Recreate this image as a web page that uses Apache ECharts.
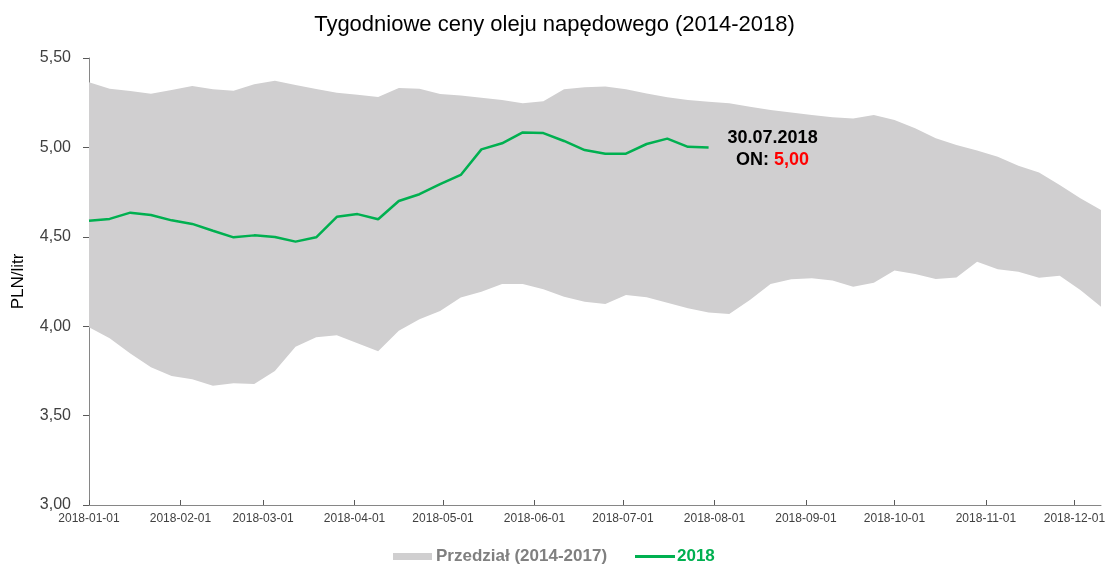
<!DOCTYPE html>
<html>
<head>
<meta charset="utf-8">
<script src="https://cdn.jsdelivr.net/npm/echarts@6/dist/echarts.min.js"></script>
<style>
  html, body { margin: 0; padding: 0; background: #fff; }
  #chart { width: 1109px; height: 565px; }
</style>
</head>
<body>
<div id="chart"></div>
<script>
// weekly dates (Monday) used for the 2014-2017 band
const weeks = [
  "2018-01-01", "2018-01-08", "2018-01-15", "2018-01-22", "2018-01-29",
  "2018-02-05", "2018-02-12", "2018-02-19", "2018-02-26",
  "2018-03-05", "2018-03-12", "2018-03-19", "2018-03-26",
  "2018-04-02", "2018-04-09", "2018-04-16", "2018-04-23", "2018-04-30",
  "2018-05-07", "2018-05-14", "2018-05-21", "2018-05-28",
  "2018-06-04", "2018-06-11", "2018-06-18", "2018-06-25",
  "2018-07-02", "2018-07-09", "2018-07-16", "2018-07-23", "2018-07-30",
  "2018-08-06", "2018-08-13", "2018-08-20", "2018-08-27",
  "2018-09-03", "2018-09-10", "2018-09-17", "2018-09-24",
  "2018-10-01", "2018-10-08", "2018-10-15", "2018-10-22", "2018-10-29",
  "2018-11-05", "2018-11-12", "2018-11-19", "2018-11-26",
  "2018-12-03", "2018-12-10"
];

// band (min / max of 2014-2017)
const bandLow = [
  3.994, 3.932, 3.848, 3.770, 3.721, 3.703, 3.667, 3.681, 3.677, 3.749,
  3.885, 3.938, 3.949, 3.904, 3.860, 3.975, 4.039, 4.085, 4.160, 4.193,
  4.236, 4.236, 4.206, 4.165, 4.137, 4.124, 4.174, 4.162, 4.131, 4.100,
  4.076, 4.068, 4.147, 4.236, 4.262, 4.268, 4.255, 4.221, 4.243, 4.311,
  4.292, 4.264, 4.273, 4.361, 4.318, 4.305, 4.271, 4.282, 4.202, 4.109
];
const bandHigh = [
  5.364, 5.328, 5.315, 5.300, 5.321, 5.343, 5.325, 5.317, 5.353, 5.373,
  5.349, 5.327, 5.306, 5.295, 5.282, 5.332, 5.328, 5.299, 5.290, 5.278,
  5.265, 5.247, 5.258, 5.325, 5.336, 5.340, 5.325, 5.302, 5.280, 5.265,
  5.256, 5.247, 5.228, 5.209, 5.195, 5.181, 5.168, 5.161, 5.181, 5.153,
  5.107, 5.051, 5.013, 4.982, 4.948, 4.898, 4.859, 4.790, 4.715, 4.650
];

// 2018 prices, weeks 0..30 (up to 2018-07-30)
const prices2018 = [
  4.590, 4.600, 4.635, 4.622, 4.592, 4.572, 4.534, 4.497, 4.508, 4.499,
  4.473, 4.497, 4.612, 4.627, 4.598, 4.700, 4.738, 4.794, 4.846, 4.989,
  5.023, 5.084, 5.080, 5.036, 4.985, 4.965, 4.965, 5.019, 5.049, 5.003,
  5.000
];

const yTicks = [3.0, 3.5, 4.0, 4.5, 5.0, 5.5];

const bandName = "Przedział (2014-2017)";
const lineName = "2018";
const green = "#00b050";
const bandColor = "#d0cfd0";
const font = "Liberation Sans, Arial, sans-serif";

const lastIdx = prices2018.length - 1;
const lastDate = weeks[lastIdx];
const lastValue = prices2018[lastIdx];
const lastLabel = lastDate.split("-").reverse().join(".");
const comma = (v) => v.toFixed(2).replace(".", ",");

const chart = echarts.init(document.getElementById("chart"));

chart.setOption({
  animation: false,
  textStyle: { fontFamily: font },
  title: {
    text: "Tygodniowe ceny oleju napędowego (2014-2018)",
    left: "center",
    top: 9,
    textStyle: { fontFamily: font, fontSize: 22, fontWeight: "normal", color: "#000" }
  },
  legend: [
    {
      data: [{ name: bandName, icon: "rect", itemStyle: { color: bandColor } }],
      left: 393,
      top: 548,
      padding: 0,
      itemWidth: 39,
      itemHeight: 7,
      textStyle: { fontFamily: font, fontSize: 17, fontWeight: "bold", color: "#808080", padding: [0, 0, 0, -1] }
    },
    {
      data: [{ name: lineName, icon: "rect", itemStyle: { color: green } }],
      left: 635,
      top: 548,
      padding: 0,
      itemWidth: 40,
      itemHeight: 3,
      textStyle: { fontFamily: font, fontSize: 17, fontWeight: "bold", color: green, padding: [0, 0, 0, -3] }
    }
  ],
  grid: { left: 89, right: 8, top: 58, bottom: 60, containLabel: false },
  xAxis: {
    type: "time",
    min: weeks[0],
    max: weeks[weeks.length - 1],
    minInterval: 28 * 24 * 3600 * 1000,
    maxInterval: 31 * 24 * 3600 * 1000,
    splitLine: { show: false },
    axisLine: { lineStyle: { color: "#868686", width: 1 } },
    axisTick: { show: true, inside: true, length: 5, lineStyle: { color: "#595959" } },
    axisLabel: {
      formatter: "{yyyy}-{MM}-{dd}",
      fontFamily: font,
      fontSize: 12,
      color: "#404040",
      margin: 8,
      showMaxLabel: false,
      hideOverlap: false
    }
  },
  yAxis: {
    type: "value",
    min: yTicks[0],
    max: yTicks[yTicks.length - 1],
    interval: 0.5,
    name: "PLN/litr",
    nameLocation: "middle",
    nameGap: 62,
    nameTextStyle: { fontFamily: font, fontSize: 17, color: "#000" },
    splitLine: { show: false },
    axisLine: { show: true, lineStyle: { color: "#868686", width: 1 } },
    axisTick: { show: true, length: 6, lineStyle: { color: "#595959" } },
    axisLabel: {
      formatter: comma,
      fontFamily: font,
      fontSize: 16,
      color: "#404040",
      margin: 18
    }
  },
  series: [
    {
      name: "low",
      type: "line",
      stack: "band",
      symbol: "none",
      silent: true,
      lineStyle: { width: 0, opacity: 0 },
      data: weeks.map((d, i) => [d, bandLow[i]]),
      z: 1
    },
    {
      name: bandName,
      type: "line",
      stack: "band",
      symbol: "none",
      silent: true,
      itemStyle: { color: bandColor },
      lineStyle: { width: 0, opacity: 0 },
      areaStyle: { color: bandColor, opacity: 1 },
      data: weeks.map((d, i) => [d, +(bandHigh[i] - bandLow[i]).toFixed(3)]),
      z: 1
    },
    {
      name: lineName,
      type: "line",
      symbol: "none",
      itemStyle: { color: green },
      lineStyle: { color: green, width: 2.5 },
      data: prices2018.map((v, i) => [weeks[i], v]),
      z: 3,
      markPoint: {
        symbol: "circle",
        symbolSize: 1,
        itemStyle: { color: "rgba(0,0,0,0)" },
        data: [{ coord: [lastDate, lastValue] }],
        label: {
          show: true,
          position: "inside",
          offset: [64, 2],
          align: "center",
          verticalAlign: "middle",
          formatter: `{d|${lastLabel}}\n{k|ON: }{r|${comma(lastValue)}}`,
          rich: {
            d: { fontFamily: font, fontSize: 18, fontWeight: "bold", color: "#000", lineHeight: 22 },
            k: { fontFamily: font, fontSize: 18, fontWeight: "bold", color: "#000", lineHeight: 22 },
            r: { fontFamily: font, fontSize: 18, fontWeight: "bold", color: "#ff0000", lineHeight: 22 }
          }
        }
      }
    }
  ]
});
</script>
</body>
</html>
